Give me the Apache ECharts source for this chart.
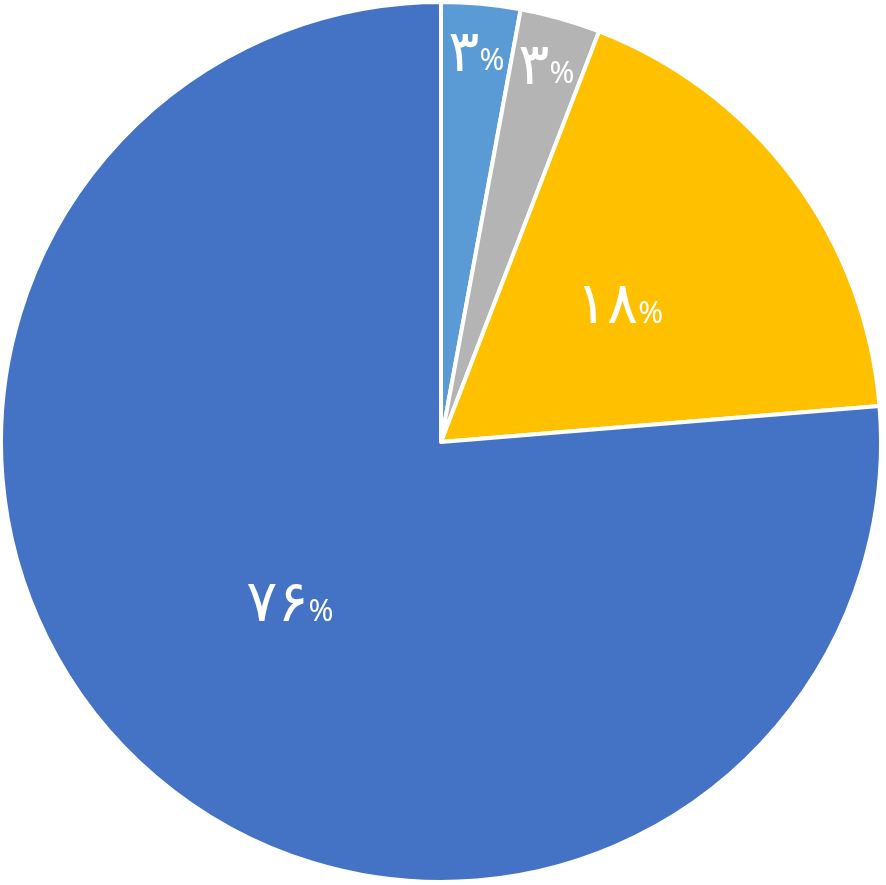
<!DOCTYPE html>
<html>
<head>
<meta charset="utf-8">
<script src="https://cdn.jsdelivr.net/npm/echarts@6/dist/echarts.min.js"></script>
<style>html,body{margin:0;padding:0;background:#fff}#c{width:886px;height:885px}</style>
</head>
<body>
<div id="c"></div>
<script>
const categories = ['A', 'B', 'C', 'D'];
const values = [2.9, 2.95, 17.85, 76.3];
const labelDigits = ['۳', '۳', '۱۸', '۷۶'];
const colors = ['#5B9BD5', '#B4B4B4', '#FFC000', '#4472C4'];
const outerLabelIdx = [0, 1];

const rich = {
  n: { fontSize: 58, color: '#fff', fontFamily: 'DejaVu Sans ExtraLight, DejaVu Sans', fontWeight: 'normal', lineHeight: 56 },
  p: { fontSize: 30, color: '#fff', fontFamily: 'Noto Sans', padding: [12, 0, 0, 0] }
};
const fmt = p => '{n|' + labelDigits[p.dataIndex] + '}{p|%}';

const chart = echarts.init(document.getElementById('c'));
chart.setOption({
  animation: false,
  series: [
    {
      type: 'pie',
      center: [441, 442],
      radius: [0, 440],
      startAngle: 90,
      clockwise: true,
      itemStyle: { borderColor: '#fff', borderWidth: 4 },
      labelLine: { show: false },
      data: categories.map((c, i) => ({
        name: c, value: values[i],
        itemStyle: { color: colors[i] },
        label: { show: !outerLabelIdx.includes(i), position: 'inside', formatter: fmt, rich }
      }))
    },
    {
      type: 'pie',
      silent: true,
      center: [441, 442],
      radius: [330, 440],
      startAngle: 90,
      clockwise: true,
      itemStyle: { color: 'rgba(0,0,0,0)', borderWidth: 0 },
      labelLine: { show: false },
      data: categories.map((c, i) => ({
        name: c, value: values[i],
        label: { show: outerLabelIdx.includes(i), position: 'inside', formatter: fmt, rich }
      }))
    }
  ]
});
</script>
</body>
</html>
